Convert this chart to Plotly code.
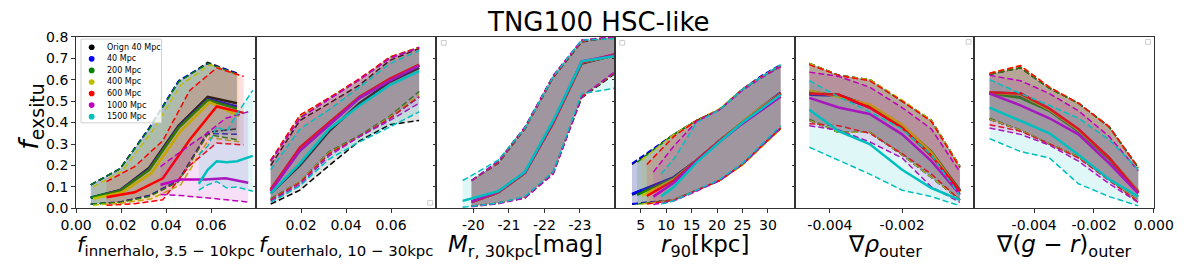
import plotly.graph_objects as go

SERIES = ["Orign 40 Mpc", "40 Mpc", "200 Mpc", "400 Mpc", "600 Mpc", "1000 Mpc", "1500 Mpc"]
COLORS = ["#000000", "#0000ff", "#008000", "#bfbf00", "#ff0000", "#bf00bf", "#00bfbf"]
FILLS = ["rgba(0,0,0,0.12)", "rgba(0,0,255,0.12)", "rgba(0,128,0,0.12)", "rgba(191,191,0,0.12)",
         "rgba(255,0,0,0.12)", "rgba(191,0,191,0.12)", "rgba(0,191,191,0.12)"]

TITLE = "TNG100 HSC-like"
XTITLES = ["<i>f</i><sub>innerhalo, 3.5 − 10kpc</sub>",
           "<i>f</i><sub>outerhalo, 10 − 30kpc</sub>",
           "<i>M</i><sub>r, 30kpc</sub>[mag]",
           "<i>r</i><sub>90</sub>[kpc]",
           "∇<i>ρ</i><sub>outer</sub>",
           "∇(<i>g</i> − <i>r</i>)<sub>outer</sub>"]
XTITLE_SIZES = [21.3, 21.3, 23, 23, 23, 23]
YTITLE = "<i>f</i><sub>exsitu</sub>"

Y_TICKS = [0.0, 0.1, 0.2, 0.3, 0.4, 0.5, 0.6, 0.7, 0.8]
Y_TICKTEXT = ["0.0", "0.1", "0.2", "0.3", "0.4", "0.5", "0.6", "0.7", "0.8"]
X_RANGES = [[0, 0.08], [0, 0.08], [-18.95, -24.0], [0.05, 35.3], [-0.00497, 0.0], [-0.006, 0.0]]
X_TICKS = [[0, 0.02, 0.04, 0.06], [0.02, 0.04, 0.06], [-20, -21, -22, -23],
           [5, 10, 15, 20, 25, 30], [-0.004, -0.002], [-0.004, -0.002, 0.0]]
X_TICKTEXT = [["0.00", "0.02", "0.04", "0.06"], ["0.02", "0.04", "0.06"], ["-20", "-21", "-22", "-23"],
              ["5", "10", "15", "20", "25", "30"], ["-0.004", "-0.002"], ["-0.004", "-0.002", "0.000"]]

# ---------------- panel 1: f_innerhalo ----------------
P1_X = [
    [0.0065, 0.0195, 0.0325, 0.0455, 0.0585, 0.0715],
    [0.0065, 0.0195, 0.0325, 0.0455, 0.0585, 0.0715],
    [0.0065, 0.0195, 0.0325, 0.0455, 0.0585, 0.0715],
    [0.0075, 0.0205, 0.0335, 0.0465, 0.0595, 0.0725],
    [0.0135, 0.0260, 0.0385, 0.0505, 0.0625, 0.0745],
    [0.0375, 0.0465, 0.0575, 0.0665, 0.0765],
    [0.0545, 0.0585, 0.0625, 0.0670, 0.0715, 0.0785],
]
P1_MED = [
    [0.05, 0.085, 0.19, 0.385, 0.52, 0.49],
    [0.05, 0.085, 0.185, 0.38, 0.51, 0.475],
    [0.05, 0.082, 0.18, 0.375, 0.505, 0.465],
    [0.045, 0.075, 0.165, 0.36, 0.495, 0.43],
    [0.052, 0.075, 0.14, 0.32, 0.475, 0.445],
    [0.11, 0.135, 0.135, 0.14, 0.12],
    [0.115, 0.18, 0.22, 0.215, 0.22, 0.245],
]
P1_HI = [
    [0.11, 0.185, 0.375, 0.59, 0.68, 0.63],
    [0.11, 0.185, 0.375, 0.595, 0.675, 0.63],
    [0.11, 0.185, 0.37, 0.59, 0.675, 0.625],
    [0.10, 0.175, 0.355, 0.575, 0.67, 0.62],
    [0.125, 0.195, 0.315, 0.55, 0.655, 0.615],
    [0.195, 0.265, 0.345, 0.42, 0.45],
    [0.25, 0.29, 0.38, 0.36, 0.44, 0.55],
]
P1_LO = [
    [0.02, 0.03, 0.06, 0.13, 0.355, 0.37],
    [0.02, 0.03, 0.06, 0.13, 0.35, 0.345],
    [0.02, 0.028, 0.055, 0.125, 0.345, 0.32],
    [0.015, 0.025, 0.045, 0.11, 0.33, 0.31],
    [0.015, 0.022, 0.04, 0.20, 0.305, 0.295],
    [0.065, 0.06, 0.05, 0.04, 0.03],
    [0.085, 0.11, 0.125, 0.095, 0.10, 0.08],
]

# ---------------- panel 2: f_outerhalo ----------------
P2_XBINS = [0.0065, 0.0195, 0.0325, 0.046, 0.0595, 0.0725]
P2_MED = [
    [0.07, 0.20, 0.36, 0.49, 0.59, 0.655],
    [0.085, 0.27, 0.39, 0.515, 0.60, 0.665],
    [0.085, 0.275, 0.395, 0.52, 0.60, 0.665],
    [0.085, 0.28, 0.40, 0.52, 0.605, 0.67],
    [0.09, 0.285, 0.40, 0.52, 0.605, 0.67],
    [0.08, 0.27, 0.39, 0.515, 0.595, 0.665],
    [0.07, 0.21, 0.37, 0.48, 0.575, 0.64],
]
P2_HI = [
    [0.20, 0.41, 0.49, 0.575, 0.69, 0.745],
    [0.22, 0.425, 0.51, 0.60, 0.70, 0.75],
    [0.22, 0.43, 0.515, 0.60, 0.705, 0.75],
    [0.22, 0.43, 0.515, 0.60, 0.705, 0.75],
    [0.225, 0.435, 0.515, 0.605, 0.705, 0.75],
    [0.22, 0.42, 0.51, 0.60, 0.70, 0.75],
    [0.18, 0.37, 0.46, 0.565, 0.675, 0.735],
]
P2_LO = [
    [0.02, 0.085, 0.20, 0.315, 0.39, 0.41],
    [0.04, 0.12, 0.255, 0.335, 0.42, 0.52],
    [0.045, 0.125, 0.265, 0.34, 0.43, 0.545],
    [0.04, 0.125, 0.26, 0.335, 0.425, 0.53],
    [0.04, 0.12, 0.255, 0.335, 0.42, 0.52],
    [0.035, 0.11, 0.245, 0.335, 0.41, 0.49],
    [0.028, 0.105, 0.23, 0.31, 0.38, 0.45],
]

# ---------------- panel 3: M_r ----------------
P3_X = [
    [-19.95, -20.7, -21.45, -22.25, -23.05, -24.0],
    [-19.95, -20.7, -21.45, -22.25, -23.05, -24.0],
    [-19.95, -20.7, -21.45, -22.25, -23.05, -24.0],
    [-19.95, -20.7, -21.45, -22.25, -23.05, -24.0],
    [-19.95, -20.7, -21.45, -22.25, -23.05, -24.0],
    [-19.95, -20.7, -21.45, -22.25, -23.05, -24.0],
    [-19.70, -20.7, -21.45, -22.25, -23.05, -24.0],
]
P3_MED = [
    [0.03, 0.075, 0.165, 0.40, 0.675, 0.715],
    [0.03, 0.075, 0.165, 0.40, 0.68, 0.715],
    [0.03, 0.075, 0.165, 0.40, 0.68, 0.715],
    [0.03, 0.075, 0.165, 0.40, 0.68, 0.715],
    [0.03, 0.075, 0.165, 0.40, 0.68, 0.72],
    [0.032, 0.078, 0.168, 0.405, 0.685, 0.715],
    [0.035, 0.08, 0.17, 0.41, 0.685, 0.71],
]
P3_HI = [
    [0.13, 0.21, 0.37, 0.61, 0.775, 0.80],
    [0.13, 0.215, 0.375, 0.615, 0.78, 0.80],
    [0.13, 0.215, 0.375, 0.615, 0.78, 0.80],
    [0.13, 0.215, 0.375, 0.615, 0.78, 0.80],
    [0.13, 0.215, 0.375, 0.615, 0.78, 0.80],
    [0.13, 0.22, 0.38, 0.62, 0.785, 0.80],
    [0.13, 0.225, 0.375, 0.615, 0.785, 0.79],
]
P3_LO = [
    [0.01, 0.025, 0.05, 0.17, 0.515, 0.63],
    [0.01, 0.025, 0.05, 0.165, 0.52, 0.635],
    [0.01, 0.025, 0.05, 0.165, 0.52, 0.635],
    [0.01, 0.025, 0.05, 0.165, 0.52, 0.635],
    [0.01, 0.025, 0.05, 0.165, 0.52, 0.635],
    [0.008, 0.022, 0.048, 0.16, 0.52, 0.64],
    [0.005, 0.025, 0.055, 0.17, 0.535, 0.56],
]

# ---------------- panel 4: r90 ----------------
P4_X = [
    [3.3, 11.5, 16, 20.5, 25, 28.5, 32.5],
    [3.3, 11.5, 16, 20.5, 25, 28.5, 32.5],
    [4.3, 11.5, 16, 20.5, 25, 28.5, 32.5],
    [5.2, 11.5, 16, 20.5, 25, 28.5, 32.5],
    [6.2, 11.5, 16, 20.5, 25, 28.5, 32.5],
    [7.5, 11.5, 16, 20.5, 25, 28.5, 32.5],
    [9.0, 11.5, 16, 20.5, 25, 28.5, 32.5],
]
P4_MED = [
    [0.065, 0.145, 0.225, 0.315, 0.40, 0.465, 0.535],
    [0.068, 0.145, 0.225, 0.315, 0.40, 0.47, 0.54],
    [0.063, 0.14, 0.225, 0.315, 0.40, 0.465, 0.535],
    [0.06, 0.135, 0.225, 0.315, 0.405, 0.47, 0.535],
    [0.058, 0.13, 0.225, 0.315, 0.40, 0.465, 0.535],
    [0.055, 0.12, 0.22, 0.31, 0.395, 0.455, 0.52],
    [0.055, 0.10, 0.215, 0.31, 0.40, 0.46, 0.53],
]
P4_HI = [
    [0.205, 0.345, 0.41, 0.46, 0.555, 0.61, 0.665],
    [0.21, 0.345, 0.41, 0.46, 0.555, 0.615, 0.67],
    [0.215, 0.345, 0.41, 0.46, 0.555, 0.61, 0.665],
    [0.225, 0.345, 0.41, 0.465, 0.555, 0.61, 0.665],
    [0.205, 0.335, 0.41, 0.46, 0.555, 0.61, 0.665],
    [0.17, 0.29, 0.405, 0.46, 0.55, 0.605, 0.66],
    [0.16, 0.23, 0.40, 0.46, 0.555, 0.61, 0.67],
]
P4_LO = [
    [0.02, 0.04, 0.085, 0.13, 0.205, 0.285, 0.37],
    [0.022, 0.04, 0.085, 0.13, 0.205, 0.285, 0.375],
    [0.02, 0.04, 0.085, 0.13, 0.205, 0.285, 0.37],
    [0.02, 0.04, 0.085, 0.13, 0.20, 0.28, 0.37],
    [0.02, 0.038, 0.085, 0.13, 0.205, 0.285, 0.375],
    [0.018, 0.035, 0.08, 0.13, 0.205, 0.285, 0.375],
    [0.02, 0.035, 0.085, 0.135, 0.21, 0.29, 0.385],
]

# ---------------- panel 5: grad rho outer ----------------
P5_XBINS = [-0.00457, -0.00376, -0.0029, -0.0020, -0.00119, -0.0004]
P5_MED = [
    [0.535, 0.53, 0.475, 0.385, 0.255, 0.08],
    [0.53, 0.525, 0.47, 0.38, 0.26, 0.085],
    [0.545, 0.525, 0.48, 0.385, 0.265, 0.085],
    [0.55, 0.52, 0.485, 0.39, 0.26, 0.075],
    [0.535, 0.53, 0.47, 0.375, 0.245, 0.08],
    [0.515, 0.47, 0.44, 0.345, 0.22, 0.065],
    [0.46, 0.36, 0.30, 0.18, 0.095, 0.04],
]
P5_HI = [
    [0.675, 0.62, 0.60, 0.50, 0.41, 0.195],
    [0.675, 0.62, 0.60, 0.50, 0.41, 0.195],
    [0.675, 0.62, 0.60, 0.50, 0.41, 0.195],
    [0.675, 0.62, 0.60, 0.505, 0.41, 0.195],
    [0.67, 0.62, 0.595, 0.50, 0.405, 0.19],
    [0.635, 0.615, 0.565, 0.47, 0.37, 0.17],
    [0.595, 0.52, 0.45, 0.37, 0.25, 0.06],
]
P5_LO = [
    [0.41, 0.355, 0.355, 0.25, 0.145, 0.04],
    [0.41, 0.355, 0.355, 0.25, 0.145, 0.04],
    [0.415, 0.355, 0.355, 0.25, 0.145, 0.04],
    [0.41, 0.355, 0.355, 0.25, 0.145, 0.04],
    [0.395, 0.385, 0.35, 0.255, 0.16, 0.04],
    [0.385, 0.365, 0.31, 0.235, 0.10, 0.028],
    [0.285, 0.225, 0.16, 0.085, 0.055, 0.012],
]

# ---------------- panel 6: grad (g-r) outer ----------------
P6_XBINS = [-0.00549, -0.00446, -0.00349, -0.00252, -0.00149, -0.00052]
P6_MED = [
    [0.54, 0.535, 0.46, 0.365, 0.235, 0.08],
    [0.54, 0.525, 0.455, 0.36, 0.23, 0.08],
    [0.535, 0.515, 0.455, 0.36, 0.23, 0.075],
    [0.54, 0.53, 0.46, 0.365, 0.235, 0.08],
    [0.54, 0.535, 0.465, 0.37, 0.235, 0.075],
    [0.535, 0.48, 0.42, 0.345, 0.21, 0.07],
    [0.47, 0.41, 0.35, 0.25, 0.135, 0.055],
]
P6_HI = [
    [0.625, 0.655, 0.56, 0.49, 0.38, 0.19],
    [0.625, 0.655, 0.56, 0.49, 0.38, 0.19],
    [0.625, 0.655, 0.56, 0.49, 0.38, 0.19],
    [0.63, 0.665, 0.565, 0.49, 0.38, 0.19],
    [0.63, 0.665, 0.565, 0.49, 0.38, 0.19],
    [0.62, 0.595, 0.535, 0.455, 0.335, 0.175],
    [0.60, 0.535, 0.48, 0.42, 0.32, 0.18],
]
P6_LO = [
    [0.415, 0.365, 0.30, 0.24, 0.135, 0.035],
    [0.415, 0.365, 0.30, 0.24, 0.135, 0.035],
    [0.42, 0.365, 0.30, 0.24, 0.135, 0.035],
    [0.415, 0.365, 0.30, 0.24, 0.135, 0.035],
    [0.39, 0.36, 0.30, 0.235, 0.13, 0.03],
    [0.375, 0.345, 0.295, 0.22, 0.115, 0.028],
    [0.325, 0.265, 0.235, 0.115, 0.055, 0.012],
]

PANELS = [
    (P1_X, P1_MED, P1_LO, P1_HI),
    ([P2_XBINS] * 7, P2_MED, P2_LO, P2_HI),
    (P3_X, P3_MED, P3_LO, P3_HI),
    (P4_X, P4_MED, P4_LO, P4_HI),
    ([P5_XBINS] * 7, P5_MED, P5_LO, P5_HI),
    ([P6_XBINS] * 7, P6_MED, P6_LO, P6_HI),
]

W, H = 1200, 271
EDGES = [62, 247.5, 433, 618, 803, 988, 1173]
TOP, BOT = 30.5, 213


def px(p):
    return p / W


def py(p):
    return 1 - p / H


fig = go.Figure()
FONT = "DejaVu Sans"

for i, (xs, meds, los, his) in enumerate(PANELS):
    xa = "x" if i == 0 else f"x{i+1}"
    ya = "y" if i == 0 else f"y{i+1}"
    for s in range(len(SERIES)):
        x = xs[s]
        fig.add_trace(go.Scatter(x=list(x) + list(x)[::-1], y=list(his[s]) + list(los[s])[::-1],
                                 fill="toself", fillcolor=FILLS[s], line=dict(width=0),
                                 mode="lines", hoverinfo="skip", showlegend=False, xaxis=xa, yaxis=ya))
        fig.add_trace(go.Scatter(x=x, y=meds[s], mode="lines", line=dict(color=COLORS[s], width=2.5),
                                 showlegend=False, xaxis=xa, yaxis=ya))
        fig.add_trace(go.Scatter(x=x, y=los[s], mode="lines",
                                 line=dict(color=COLORS[s], width=1.5, dash="6px,3px"),
                                 showlegend=False, xaxis=xa, yaxis=ya))
        fig.add_trace(go.Scatter(x=x, y=his[s], mode="lines",
                                 line=dict(color=COLORS[s], width=1.5, dash="6px,3px"),
                                 showlegend=False, xaxis=xa, yaxis=ya))

layout = dict(
    width=W, height=H, margin=dict(l=0, r=0, t=0, b=0),
    paper_bgcolor="white", plot_bgcolor="white",
    font=dict(family=FONT, color="black"),
    showlegend=False,
)
for i in range(6):
    xk = "xaxis" if i == 0 else f"xaxis{i+1}"
    yk = "yaxis" if i == 0 else f"yaxis{i+1}"
    layout[xk] = dict(domain=[px(EDGES[i]), px(EDGES[i + 1])], anchor="y" if i == 0 else f"y{i+1}",
                      range=X_RANGES[i], tickmode="array", tickvals=X_TICKS[i], ticktext=X_TICKTEXT[i],
                      showline=True, mirror=True, linecolor="#333", linewidth=1,
                      ticks="outside", ticklen=4, tickcolor="#333", tickfont=dict(size=14, family=FONT),
                      showgrid=False, zeroline=False)
    layout[yk] = dict(domain=[py(BOT), py(TOP)], anchor="x" if i == 0 else f"x{i+1}",
                      range=[0, 0.8], tickmode="array", tickvals=Y_TICKS, ticktext=Y_TICKTEXT,
                      showticklabels=(i == 0), showline=True, mirror=True, linecolor="#333", linewidth=1,
                      ticks="outside", ticklen=4 if i == 0 else 2, tickcolor="#333",
                      tickfont=dict(size=14, family=FONT), showgrid=False, zeroline=False)
fig.update_layout(**layout)

annotations = [
    dict(text=TITLE, x=0.5, y=py(15), xref="paper", yref="paper", showarrow=False,
         font=dict(size=26, family=FONT), xanchor="center", yanchor="middle"),
    dict(text=YTITLE, x=px(15), y=py(116), xref="paper", yref="paper", showarrow=False,
         textangle=-90, font=dict(size=27, family=FONT), xanchor="center", yanchor="middle"),
]
for i in range(6):
    annotations.append(dict(text=XTITLES[i], x=px((EDGES[i] + EDGES[i + 1]) / 2), y=py(253),
                            xref="paper", yref="paper", showarrow=False,
                            font=dict(size=XTITLE_SIZES[i], family=FONT), xanchor="center", yanchor="middle"))

shapes = []
# legend box (panel 1)
shapes.append(dict(type="rect", xref="paper", yref="paper", x0=px(67), x1=px(150), y0=py(122), y1=py(33),
                   line=dict(color="#d0d0d0", width=1), fillcolor="rgba(255,255,255,0.8)", layer="above"))
for k, (name, col) in enumerate(zip(SERIES, COLORS)):
    yc = 41.7 + 12.3 * k
    shapes.append(dict(type="circle", xref="paper", yref="paper", x0=px(75), x1=px(81),
                       y0=py(yc + 3), y1=py(yc - 3), fillcolor=col, line=dict(width=0), layer="above"))
    annotations.append(dict(text=name, x=px(92), y=py(yc), xref="paper", yref="paper", showarrow=False,
                            xanchor="left", yanchor="middle", font=dict(size=8, family=FONT)))
# empty legend boxes in other panels
for (cx, cy) in [(427, 207), (441, 37), (625, 37), (982, 36), (1167, 36)]:
    shapes.append(dict(type="rect", xref="paper", yref="paper", x0=px(cx - 2.5), x1=px(cx + 2.5),
                       y0=py(cy + 2.5), y1=py(cy - 2.5), line=dict(color="#cccccc", width=1),
                       fillcolor="white", layer="above"))

fig.update_layout(annotations=annotations, shapes=shapes)

fig.write_html("out.html", config={"displayModeBar": False},
               post_script="document.body.style.margin='0';document.body.style.overflow='hidden';")
